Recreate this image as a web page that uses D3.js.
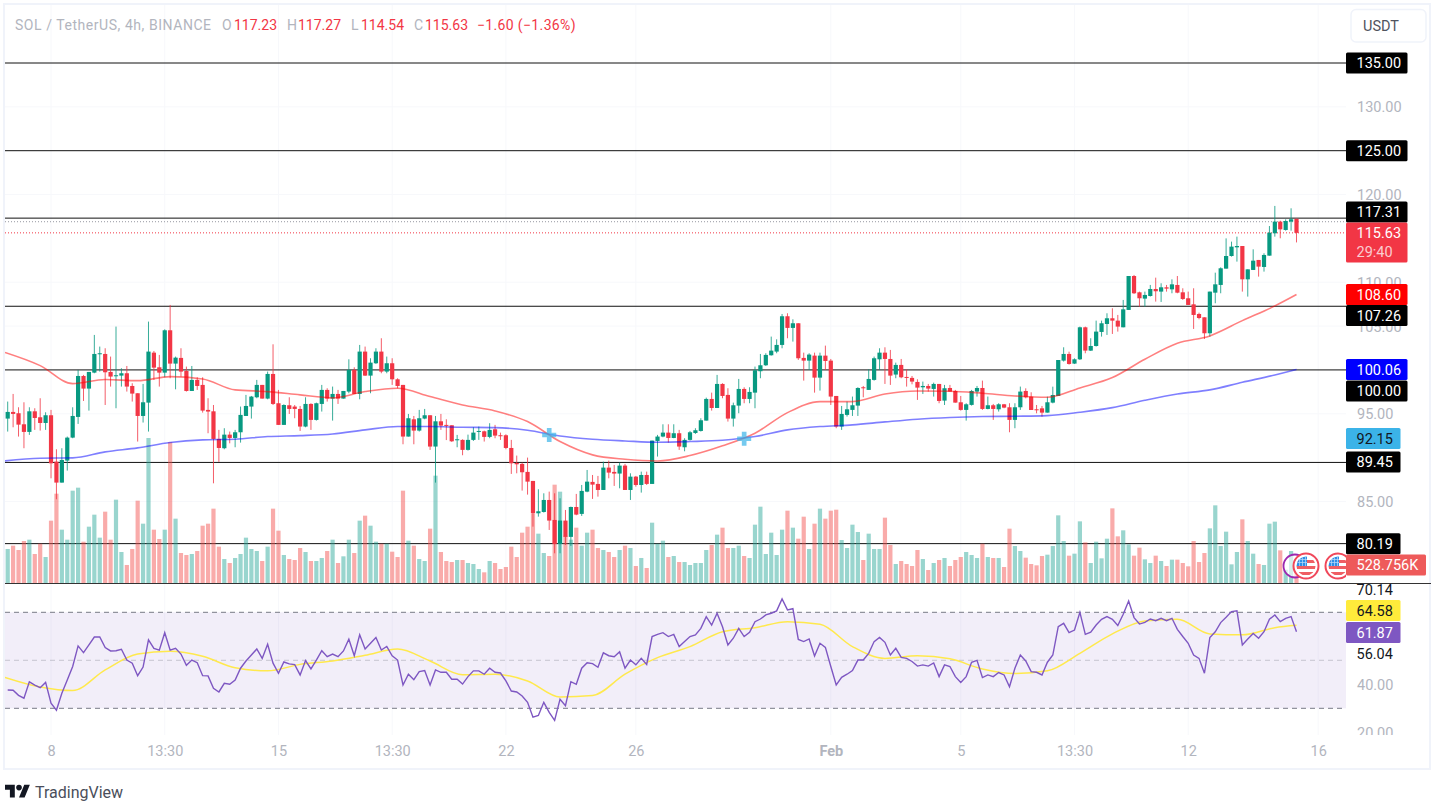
<!DOCTYPE html>
<html>
<head>
<meta charset="utf-8">
<script src="https://cdn.jsdelivr.net/npm/d3@7"></script>
<style>
  html, body { margin: 0; background: #fff; }
  svg { display: block; }
  text { font-family: Roboto, sans-serif; font-size: 14.5px; }
</style>
</head>
<body>
<svg id="chart" width="1437" height="806"></svg>
<script>
// SOL / USDT 4h candles, bar 0 is the first bar on the left
const opens = [
  94.45,95.21,95.06,93.80,92.93,95.28,94.60,93.95,94.83,89.54,
  87.15,89.66,92.28,94.64,99.31,97.87,99.69,101.82,101.82,99.77,
  99.31,99.35,99.62,98.17,97.34,94.75,96.27,101.97,100.30,99.69,
  104.52,100.72,101.37,99.88,97.60,98.86,98.29,95.44,95.28,92.13,
  91.07,92.62,92.24,92.89,94.75,95.82,96.88,98.29,96.73,99.54,
  96.20,93.73,95.97,95.82,95.55,93.54,96.12,94.30,96.12,97.72,
  96.73,97.26,96.73,97.53,100.0,97.26,102.09,99.35,100.76,102.09,
  99.81,100.76,98.93,98.29,92.40,94.37,93.08,94.45,94.83,91.26,
  94.14,93.73,93.69,92.02,92.02,90.88,92.02,92.93,93.0,92.36,
  93.23,92.55,92.55,91.10,89.39,89.28,88.37,87.34,83.65,83.80,
  85.17,82.89,80.16,82.82,80.96,84.37,83.58,86.12,87.23,87.0,
  86.31,88.86,88.37,88.18,89.09,86.31,87.83,86.88,88.02,87.0,
  91.90,92.40,92.85,92.24,92.78,91.18,92.02,92.81,93.04,94.22,
  96.69,95.66,98.40,97.15,94.45,95.93,97.83,96.69,97.41,99.85,
  100.53,101.67,102.09,102.85,106.12,104.79,105.32,101.37,101.06,101.63,
  99.12,101.63,101.06,97.03,93.54,94.87,95.44,95.93,98.02,97.72,
  98.86,101.21,101.97,101.25,99.47,100.57,99.20,99.09,98.63,98.02,
  98.17,97.83,98.40,96.50,97.94,97.60,96.31,95.44,96.01,97.53,
  97.94,95.55,95.97,95.51,96.08,95.74,94.30,95.74,97.60,96.95,
  95.51,95.62,95.13,96.27,97.03,101.06,101.82,100.72,101.21,104.86,
  102.20,102.73,104.33,105.24,105.89,105.62,104.86,106.84,110.71,108.85,
  108.13,108.43,109.23,108.93,109.42,109.19,109.69,108.85,108.17,107.48,
  106.38,106.0,104.18,108.81,109.69,111.55,112.99,113.98,114.13,110.33,
  111.40,112.54,111.74,113.03,115.58,116.91,115.96,116.91,117.23
];
const highs = [
  96.39,97.26,95.74,96.31,95.74,95.63,96.77,95.17,95.44,90.95,
  91.07,92.40,95.74,100.0,99.43,99.77,103.99,102.66,102.47,101.52,
  104.94,100.19,100.45,98.48,97.34,98.40,105.51,102.16,101.71,104.63,
  107.41,101.52,102.47,100.38,100.45,99.16,99.16,96.77,96.0,93.16,
  93.35,92.97,93.16,95.82,97.15,97.03,98.86,98.29,99.81,102.92,
  97.72,96.08,96.88,96.0,95.89,96.88,96.20,96.27,98.29,97.91,
  98.10,97.72,97.60,101.21,100.30,102.85,102.66,101.33,102.47,103.61,
  101.52,101.33,99.05,98.29,94.98,94.75,95.44,95.55,94.83,94.75,
  94.98,94.37,93.69,92.59,92.09,92.62,93.46,93.54,93.08,93.92,
  93.73,92.85,92.66,92.02,90.23,89.43,90.0,87.34,86.39,85.93,
  86.12,85.93,85.36,84.03,84.41,85.86,86.88,88.59,88.02,87.91,
  89.54,89.66,89.16,89.43,89.28,88.21,87.91,88.40,88.40,91.94,
  92.59,93.80,93.80,93.80,93.16,92.21,93.04,93.35,94.49,96.84,
  97.41,99.43,98.48,97.91,96.27,98.97,98.02,98.02,100.38,101.82,
  101.90,103.80,103.49,106.38,106.46,105.77,105.32,101.97,101.90,101.97,
  101.97,102.77,101.25,97.03,95.89,96.39,96.96,98.02,98.17,100.07,
  101.52,102.47,102.58,102.28,100.83,101.25,100.07,99.31,98.93,98.67,
  98.40,98.55,98.40,98.29,98.29,97.72,97.03,96.20,97.72,98.17,
  98.78,96.96,96.12,96.20,96.12,96.20,96.20,98.10,97.90,97.45,
  96.0,95.89,96.95,98.09,101.13,102.58,102.08,101.32,104.94,104.94,
  103.61,105.62,105.62,106.46,107.03,106.27,107.98,110.71,110.83,108.93,
  108.93,109.69,110.52,109.88,109.69,110.33,110.71,109.31,108.93,109.31,
  106.53,106.0,108.93,111.09,111.70,115.0,114.63,115.20,114.13,111.47,
  113.75,112.54,113.30,116.41,118.70,117.02,117.17,118.43,117.27
];
const lows = [
  92.97,93.46,92.40,91.07,92.59,93.16,93.08,93.16,87.64,85.25,
  87.15,88.52,92.21,93.84,96.46,95.36,99.62,99.81,96.0,98.10,
  95.63,98.10,97.53,96.39,91.83,94.0,92.97,98.86,98.10,99.16,
  99.05,97.79,99.24,97.53,97.60,97.72,95.13,92.78,87.07,89.51,
  90.95,91.63,91.18,91.71,94.75,94.45,96.77,96.73,96.65,96.0,
  93.73,93.73,94.98,94.49,93.04,93.46,93.16,94.22,95.25,96.39,
  94.22,96.12,96.73,97.34,97.26,96.65,99.31,97.34,100.68,99.62,
  99.62,98.29,97.91,91.52,92.40,91.52,92.97,94.37,90.88,87.15,
  93.16,92.0,91.79,91.18,90.27,90.80,91.90,92.02,91.83,92.21,
  92.21,92.02,90.95,88.14,88.21,86.24,85.78,82.13,83.27,83.73,
  81.75,79.09,79.09,80.04,79.93,83.43,83.35,86.05,85.29,85.55,
  86.31,87.64,86.77,86.50,86.31,85.17,86.69,86.01,86.88,87.0,
  90.12,92.32,91.71,92.21,90.88,90.72,91.94,92.70,92.97,94.22,
  95.36,95.66,96.77,94.11,93.54,95.06,96.20,96.20,95.63,99.05,
  100.45,101.63,101.90,102.47,103.61,103.23,101.14,98.78,100.0,97.41,
  97.64,100.0,96.0,93.35,93.16,94.68,94.75,94.75,96.88,97.72,
  98.78,100.0,98.40,98.29,99.05,99.05,98.10,98.36,96.58,97.26,
  97.53,96.96,96.20,96.0,97.53,96.27,95.36,94.22,95.93,96.96,
  95.44,95.51,94.30,95.25,95.63,92.89,93.35,95.44,96.76,95.43,
  95.05,94.67,95.13,96.19,97.03,100.95,100.60,100.68,101.13,101.90,
  102.16,102.66,103.80,103.99,104.10,104.37,104.86,106.84,108.66,107.22,
  107.22,108.36,107.79,107.75,108.93,108.74,108.74,107.98,107.41,104.67,
  105.77,103.53,103.80,107.60,108.74,111.55,112.92,112.35,108.93,108.36,
  111.40,110.64,111.21,113.03,115.20,115.01,115.88,115.88,114.54
];
const closes = [
  95.21,94.98,93.76,92.93,95.28,94.52,93.95,94.83,89.35,87.15,
  89.73,92.28,94.75,99.31,97.87,99.77,101.82,101.90,99.73,99.24,
  99.39,99.62,98.10,97.30,94.75,96.31,102.09,100.26,99.69,104.52,
  100.72,101.40,99.81,97.60,98.86,98.17,95.36,95.25,92.13,91.10,
  92.62,92.24,92.89,94.87,95.89,96.96,98.29,96.73,99.54,96.12,
  93.73,96.0,95.55,95.55,93.54,96.12,94.30,96.20,97.72,96.73,
  97.26,96.73,97.60,100.0,97.26,102.09,99.35,100.83,102.09,99.81,
  100.76,98.93,98.17,92.40,94.49,93.08,94.49,94.83,91.26,94.14,
  93.65,93.65,91.86,92.09,90.88,92.02,92.85,93.04,92.36,93.16,
  92.51,92.47,91.10,89.35,89.24,88.33,87.26,83.65,83.88,85.17,
  82.82,80.16,82.82,80.96,84.37,83.50,86.20,87.26,86.92,86.31,
  88.86,88.29,88.18,89.09,86.31,87.83,86.88,88.02,87.0,91.94,
  92.40,92.85,92.24,92.78,91.26,92.02,92.89,93.12,94.26,96.69,
  95.66,98.40,97.03,94.45,95.97,97.83,96.69,97.49,99.96,100.53,
  101.71,102.20,102.85,106.12,104.79,105.32,101.33,101.06,101.75,99.12,
  101.63,101.02,96.96,93.54,94.98,95.51,95.97,97.94,97.91,98.97,
  101.33,101.97,101.25,99.35,100.57,99.16,99.09,98.67,97.98,98.17,
  97.87,98.40,96.46,97.91,97.53,96.27,95.44,96.08,97.60,97.94,
  95.55,95.97,95.55,96.08,95.70,94.30,95.74,97.53,96.88,95.43,
  95.43,95.13,96.31,97.14,101.13,101.82,100.68,101.21,104.86,102.20,
  102.73,104.37,105.32,105.89,105.62,104.94,106.91,110.71,108.74,108.17,
  108.55,109.23,108.97,109.42,109.27,109.76,108.81,108.09,107.41,106.27,
  105.92,104.18,108.93,109.76,111.59,112.99,114.06,114.13,110.33,111.47,
  112.46,111.78,113.11,115.65,116.91,116.03,116.98,117.18,115.63
];
// volume in thousands of SOL
const volumes = [
  997,1094,967,1231,1270,850,1153,762,1827,2618,
  1563,1270,2706,2794,1211,1651,2003,1329,2091,1270,
  2443,909,528,997,2413,1739,4250,1563,1290,1563,
  4133,1886,879,821,850,938,1680,1739,2179,1065,
  703,586,733,850,1329,997,938,645,1065,2179,
  1534,821,703,674,1026,909,645,645,733,938,
  1270,586,782,1270,879,1827,1974,1680,1211,1153,
  1153,918,762,2706,1241,1094,703,645,1593,3146,
  909,645,615,674,674,586,557,410,313,645,
  586,410,469,1065,762,1475,1651,2032,1446,879,
  791,2882,2677,1387,1270,1622,1094,1475,1563,1026,
  967,909,762,967,1094,1026,498,733,440,1768,
  1153,1241,762,791,615,615,528,586,586,967,
  1114,1417,1622,1026,1026,1094,791,733,1710,2237,
  850,1475,821,1563,2120,1622,1299,1944,997,1739,
  2179,1886,2120,2149,1260,1026,1710,1495,674,1446,
  997,997,1915,1114,557,645,557,498,967,703,
  381,586,674,733,498,674,762,909,821,733,
  1153,762,733,733,469,1593,1084,938,743,557,
  518,791,830,1084,1983,1231,801,860,1807,1192,
  586,1211,723,1299,2188,1368,1544,1133,801,1036,
  694,586,801,645,498,684,684,586,489,1231,
  615,879,1602,2276,1084,1505,547,909,1866,1231,
  860,557,528,1739,1798,957,391,938,528.756
];
const rsi = [
  37.6,37.5,35.4,34.2,41.0,39.7,38.6,40.8,32.1,29.2,
  36.3,41.8,47.4,56.0,53.2,56.4,59.7,59.7,55.3,53.9,
  54.0,54.6,50.1,48.8,43.6,47.2,58.5,55.0,54.2,61.5,
  54.2,55.0,52.6,47.9,50.1,49.0,43.6,43.5,38.3,36.8,
  40.4,40.0,41.8,46.7,49.7,52.2,54.7,50.8,56.7,48.8,
  44.6,49.3,48.5,48.2,43.9,49.9,46.4,50.1,54.0,51.5,
  52.6,51.5,53.9,58.8,51.9,60.6,54.7,57.1,59.5,54.3,
  55.8,51.9,50.1,39.7,44.2,41.9,45.3,45.7,39.7,46.0,
  45.0,45.0,42.1,42.1,40.1,43.2,45.6,45.6,44.2,46.7,
  45.0,44.7,41.4,37.2,36.8,35.1,32.5,26.3,27.0,32.5,
  28.3,25.0,33.8,31.1,41.1,40.0,46.7,49.0,48.6,47.1,
  53.1,51.9,51.5,53.6,46.7,50.1,48.1,50.8,48.3,59.9,
  60.8,61.5,59.9,60.8,55.7,57.8,59.9,60.6,63.3,68.2,
  64.7,69.6,64.0,56.4,59.2,63.3,59.9,61.7,66.1,67.2,
  68.9,69.6,70.6,75.6,71.0,71.5,58.7,57.8,58.9,51.8,
  57.1,55.4,47.4,39.7,42.9,44.2,45.7,50.1,50.1,52.9,
  57.8,59.5,57.5,52.2,55.0,51.2,50.8,49.5,47.6,48.1,
  47.6,48.9,43.2,48.1,47.4,43.2,40.8,43.2,49.2,50.0,
  42.8,43.9,43.2,44.9,43.9,39.0,46.7,52.2,49.7,45.3,
  45.0,43.9,49.2,52.2,64.0,65.4,61.5,62.6,70.0,60.8,
  61.7,64.7,67.1,68.2,67.1,64.5,69.2,74.7,67.8,65.1,
  65.8,67.2,66.5,67.5,66.5,67.5,62.9,59.9,57.1,52.2,
  50.8,44.6,59.5,61.9,65.7,67.9,70.3,70.6,56.4,58.9,
  61.2,59.2,61.9,67.1,68.9,66.1,67.5,68.2,61.87
];

// the smooth lines were read every sixth bar, they start at the left edge of the pane
const smoothBars = [
  -0.5,6,12,18,24,30,36,42,48,54,60,66,72,78,84,90,96,102,108,114,
  120,126,132,138,144,150,156,162,168,174,180,186,192,198,204,210,216,222,228,234,238
];
const ema50 = [
  101.99,100.49,98.44,98.9,98.78,99.24,98.97,97.72,97.53,97.15,96.81,97.53,97.91,96.96,96.0,95.32,94.11,91.83,90.31,89.81,
  89.62,90.23,91.34,92.78,95.13,96.39,96.39,97.26,97.6,97.57,97.34,97.03,96.88,97.95,99.13,101.22,103.04,103.88,105.62,107.3,108.6
];
const ema200 = [
  89.63,89.93,89.97,90.65,91.11,91.72,92.02,92.1,92.4,92.51,92.7,93.16,93.54,93.54,93.46,93.42,93.12,92.47,92.1,91.9,
  91.75,91.83,91.98,92.4,93.16,93.54,93.73,94.07,94.38,94.57,94.68,94.72,94.79,95.17,95.7,96.54,97.26,97.72,98.59,99.43,100.06
];
const rsiMa = [
  42.9,38.9,37.4,46.0,52.6,53.8,51.7,46.9,45.6,48.3,49.7,52.1,54.7,49.7,44.0,44.2,41.4,34.7,35.3,44.2,
  51.1,55.7,61.9,63.6,66.1,65.0,55.7,50.8,51.9,50.6,46.4,44.5,45.6,52.9,61.0,66.4,67.1,61.0,60.6,63.6,64.58
];

const crossBars = [100, 136];
const crossPrices = [92.58, 92.15];

const levels = [135, 125, 117.31, 107.26, 100, 89.45, 80.19];
const priceTicks = [130, 120, 110, 105, 95, 85];
const rsiTicks = [40, 20];
const rsiBands = [70, 50, 30];
const timeBars = [8, 29, 50, 71, 92, 116, 152, 176, 197, 218, 242];
const timeLabels = ["8", "13:30", "15", "13:30", "22", "26", "Feb", "5", "13:30", "12", "16"];

const bars = d3.range(closes.length);

const UP = "#089981", DOWN = "#f23645";
const paneLeft = 5, paneRight = 1346;
const svg = d3.select("#chart");

const x = d3.scaleLinear().domain([0, 238]).range([7.7, 1296.5]);
const y = d3.scaleLinear().domain([135, 80]).range([63, 545.3]);
const yVol = d3.scaleLinear().domain([0, 4250]).range([583, 438]);
const yRsi = d3.scaleLinear().domain([70, 30]).range([612.3, 708.3]);

const defs = svg.append("defs");
defs.append("clipPath").attr("id", "mainClip").append("rect")
    .attr("x", paneLeft).attr("y", 5).attr("width", paneRight - paneLeft).attr("height", 578);
defs.append("clipPath").attr("id", "rsiClip").append("rect")
    .attr("x", paneLeft).attr("y", 584).attr("width", paneRight - paneLeft).attr("height", 151);
defs.append("clipPath").attr("id", "rsiAxisClip").append("rect")
    .attr("x", paneRight).attr("y", 584).attr("width", 85).attr("height", 151);

// outer frame
svg.append("rect")
    .attr("x", 4).attr("y", 4).attr("width", 1426).attr("height", 765)
    .attr("fill", "#fff").attr("stroke", "#f0f3fa").attr("stroke-width", 2);

// faint grid
const grid = svg.append("g").attr("stroke", "#f7f8fb");
grid.selectAll(".v").data(timeBars).enter().append("line")
    .attr("x1", d => x(d)).attr("x2", d => x(d)).attr("y1", 5).attr("y2", 735);
grid.selectAll(".h").data(priceTicks).enter().append("line")
    .attr("x1", paneLeft).attr("x2", paneRight).attr("y1", d => y(d)).attr("y2", d => y(d));

const main = svg.append("g").attr("clip-path", "url(#mainClip)");

// drawn levels, they sit under the bars
main.append("g").selectAll("line").data(levels).enter().append("line")
    .attr("x1", paneLeft).attr("x2", paneRight)
    .attr("y1", d => y(d)).attr("y2", d => y(d))
    .attr("stroke", "#111").attr("stroke-width", 1);

main.append("line")
    .attr("x1", paneLeft).attr("x2", paneRight)
    .attr("y1", y(116.9)).attr("y2", y(116.9))
    .attr("stroke", "#9598a1").attr("stroke-dasharray", "1 2");

main.append("line")
    .attr("x1", paneLeft).attr("x2", paneRight)
    .attr("y1", y(closes[238])).attr("y2", y(closes[238]))
    .attr("stroke", DOWN).attr("stroke-dasharray", "1 2");

// volume
main.append("g").selectAll("rect").data(bars).enter().append("rect")
    .attr("x", i => x(i) - 2.1)
    .attr("width", 4.2)
    .attr("y", i => yVol(volumes[i]))
    .attr("height", i => yVol(0) - yVol(volumes[i]))
    .attr("fill", i => closes[i] >= opens[i] ? "#2aa899" : "#f2504e")
    .attr("opacity", 0.48);

// candles
const candles = main.append("g").selectAll("g").data(bars).enter().append("g")
    .attr("fill", i => closes[i] >= opens[i] ? UP : DOWN)
    .attr("stroke", i => closes[i] >= opens[i] ? UP : DOWN);

candles.append("line")
    .attr("x1", i => x(i)).attr("x2", i => x(i))
    .attr("y1", i => y(highs[i])).attr("y2", i => y(lows[i]))
    .attr("stroke-width", 1).attr("opacity", 0.8);

candles.append("rect")
    .attr("x", i => x(i) - 2.1)
    .attr("width", 4.2)
    .attr("y", i => y(Math.max(opens[i], closes[i])))
    .attr("height", i => Math.max(1, Math.abs(y(opens[i]) - y(closes[i]))))
    .attr("stroke", "none");

// moving averages
const priceLine = d3.line().x((d, k) => x(smoothBars[k])).y(d => y(d)).curve(d3.curveMonotoneX);
main.append("path").attr("d", priceLine(ema200))
    .attr("fill", "none").attr("stroke", "#0000ff").attr("stroke-opacity", 0.5).attr("stroke-width", 1.6);
main.append("path").attr("d", priceLine(ema50))
    .attr("fill", "none").attr("stroke", "#ff0000").attr("stroke-opacity", 0.5).attr("stroke-width", 1.6);

// cross markers
main.append("g").selectAll("path").data(crossBars).enter().append("path")
    .attr("d", d3.symbol().type(d3.symbolCross).size(110))
    .attr("transform", (d, k) => `translate(${x(d)}, ${y(crossPrices[k])})`)
    .attr("fill", "#3bb3e8").attr("opacity", 0.7);

// news icons on the volume pane
const flag = (cx, cy) => {
    const g = main.append("g").attr("transform", `translate(${cx}, ${cy})`);
    g.append("circle").attr("r", 12.5).attr("fill", "#fff").attr("stroke", "#f0475a").attr("stroke-width", 2);
    const id = "flag" + cx;
    g.append("clipPath").attr("id", id).append("circle").attr("r", 9.5);
    const inner = g.append("g").attr("clip-path", `url(#${id})`);
    inner.append("rect").attr("x", -10).attr("y", -10).attr("width", 20).attr("height", 20).attr("fill", "#fff");
    [-6, 0, 6].forEach(sy => {
        inner.append("rect").attr("x", -10).attr("y", sy).attr("width", 20).attr("height", 3).attr("fill", "#ef5e63");
    });
    inner.append("rect").attr("x", -10).attr("y", -10).attr("width", 11).attr("height", 10).attr("fill", "#2f8fe6");
    [-7, -4, -1].forEach(gx => {
        inner.append("rect").attr("x", gx).attr("y", -10).attr("width", 0.7).attr("height", 10).attr("fill", "#bcdcf8");
    });
    [-7, -4].forEach(gy => {
        inner.append("rect").attr("x", -10).attr("y", gy).attr("width", 11).attr("height", 0.7).attr("fill", "#bcdcf8");
    });
};
main.append("circle").attr("cx", 1295).attr("cy", 566).attr("r", 11.5)
    .attr("fill", "#fff").attr("fill-opacity", 0.6).attr("stroke", "#9c27b0").attr("stroke-width", 1.8);
flag(1306, 566);
flag(1338, 566);

// RSI pane
const rsiPane = svg.append("g").attr("clip-path", "url(#rsiClip)");
rsiPane.append("rect")
    .attr("x", paneLeft).attr("width", paneRight - paneLeft)
    .attr("y", yRsi(70)).attr("height", yRsi(30) - yRsi(70))
    .attr("fill", "#7e57c2").attr("opacity", 0.1);
rsiPane.append("g").selectAll("line").data(rsiBands).enter().append("line")
    .attr("x1", paneLeft).attr("x2", paneRight)
    .attr("y1", d => yRsi(d)).attr("y2", d => yRsi(d))
    .attr("stroke", "#787b86").attr("stroke-opacity", d => d === 50 ? 0.35 : 1)
    .attr("stroke-dasharray", "5 4");
rsiPane.append("path")
    .attr("d", d3.line().x((d, k) => x(smoothBars[k])).y(d => yRsi(d)).curve(d3.curveMonotoneX)(rsiMa))
    .attr("fill", "none").attr("stroke", "#ffe94d").attr("stroke-width", 1.5);
rsiPane.append("path")
    .attr("d", d3.line().x((d, k) => x(k)).y(d => yRsi(d))(rsi))
    .attr("fill", "none").attr("stroke", "#7e57c2").attr("stroke-width", 1.4);

// pane separator
svg.append("line")
    .attr("x1", paneLeft).attr("x2", 1431).attr("y1", 583.5).attr("y2", 583.5)
    .attr("stroke", "#333");

// axes
const priceAxis = svg.append("g")
    .attr("transform", "translate(1354, 0)")
    .call(d3.axisRight(y).tickValues(priceTicks).tickFormat(d3.format(".2f")).tickSize(0));
priceAxis.select(".domain").remove();
priceAxis.selectAll("text").attr("fill", "#b2b5be").style("font-size", "14.5px").attr("dy", "0.34em");

const rsiAxis = svg.append("g").attr("clip-path", "url(#rsiAxisClip)").append("g")
    .attr("transform", "translate(1354, 0)")
    .call(d3.axisRight(yRsi).tickValues(rsiTicks).tickFormat(d3.format(".2f")).tickSize(0));
rsiAxis.select(".domain").remove();
rsiAxis.selectAll("text").attr("fill", "#b2b5be").style("font-size", "14.5px").attr("dy", "0.34em");

const timeAxis = svg.append("g")
    .attr("transform", "translate(0, 744)")
    .call(d3.axisBottom(x).tickValues(timeBars).tickFormat((d, k) => timeLabels[k]).tickSize(0));
timeAxis.select(".domain").remove();
timeAxis.selectAll("text")
    .attr("fill", "#b2b5be").style("font-size", "14.5px")
    .attr("y", 2).attr("dy", "0.71em")
    .style("font-weight", (d, k) => timeLabels[k] === "Feb" ? "700" : "400");

// labels on the right hand scale
const tag = (txt, cy, w, bg, fg, h) => {
    svg.append("rect").attr("x", 1346).attr("y", cy - 10.5).attr("width", w).attr("height", h || 21)
        .attr("rx", 1.5).attr("fill", bg);
    svg.append("text").attr("x", 1356.5).attr("y", cy).attr("dy", "0.36em").attr("fill", fg).text(txt);
};
tag("135.00", y(135), 61.5, "#000", "#fff");
tag("125.00", y(125), 61.5, "#000", "#fff");
tag("117.31", 212, 61.5, "#000", "#fff");
tag(d3.format(".2f")(closes[238]), 233, 61.5, "#f23645", "#fff", 40);
svg.append("text").attr("x", 1356.5).attr("y", 252).attr("dy", "0.36em").attr("fill", "#fff").attr("fill-opacity", 0.75).text("29:40");
tag("108.60", 294.5, 61.5, "#ff0000", "#fff");
tag("107.26", 315.5, 61.5, "#000", "#fff");
tag("100.06", 369.5, 61.5, "#0000ff", "#fff");
tag("100.00", 391, 61.5, "#000", "#fff");
tag("92.15", 438.5, 54.5, "#3bb3e8", "#131722");
tag("89.45", 462, 54.5, "#000", "#fff");
tag("80.19", 543.7, 54.5, "#000", "#fff");
tag("528.756K", 565, 80, "#ee5a5a", "#fff");

svg.append("text").attr("x", 1356.5).attr("y", 590).attr("dy", "0.36em").attr("fill", "#131722").text("70.14");
tag("64.58", 610.5, 54.5, "#ffeb3b", "#131722");
tag("61.87", 632.5, 54.5, "#7e57c2", "#fff");
svg.append("text").attr("x", 1356.5).attr("y", 654).attr("dy", "0.36em").attr("fill", "#131722").text("56.04");

// legend
const legend = svg.append("text").attr("y", 25).attr("dy", "0.36em").style("font-size", "14px");
[
    ["SOL / TetherUS, 4h, BINANCE", 15, "#b2b5be", 0.55],
    ["O", 222, "#b2b5be", 0], ["117.23", 234, DOWN, 0],
    ["H", 287, "#b2b5be", 0], ["117.27", 298, DOWN, 0],
    ["L", 351, "#b2b5be", 0], ["114.54", 361, DOWN, 0],
    ["C", 414, "#b2b5be", 0], ["115.63", 425, DOWN, 0],
    ["\u22121.60 (\u22121.36%)", 477, DOWN, 0.35]
].forEach(([t, px, c, ls]) => legend.append("tspan").attr("x", px).attr("fill", c).attr("letter-spacing", ls).text(t));

// currency button
svg.append("rect").attr("x", 1351).attr("y", 9.5).attr("width", 75).attr("height", 32.5).attr("rx", 5)
    .attr("fill", "#fff").attr("stroke", "#f0f3fa").attr("stroke-width", 1.5);
svg.append("text").attr("x", 1363).attr("y", 25.5).attr("dy", "0.36em").attr("fill", "#50535e").text("USDT");

// TradingView mark
svg.append("path").attr("transform", "translate(5, 782) scale(0.7)")
    .attr("d", "M14 22H7V11H0V4h14v18zM28 22h-8l7.5-18h8L28 22z").attr("fill", "#131722");
svg.append("circle").attr("transform", "translate(5, 782) scale(0.7)")
    .attr("cx", 20).attr("cy", 8).attr("r", 4).attr("fill", "#131722");
svg.append("text").attr("x", 35).attr("y", 792.5).attr("dy", "0.36em")
    .attr("fill", "#4a4e5a").style("font-size", "16px").text("TradingView");
</script>
</body>
</html>
